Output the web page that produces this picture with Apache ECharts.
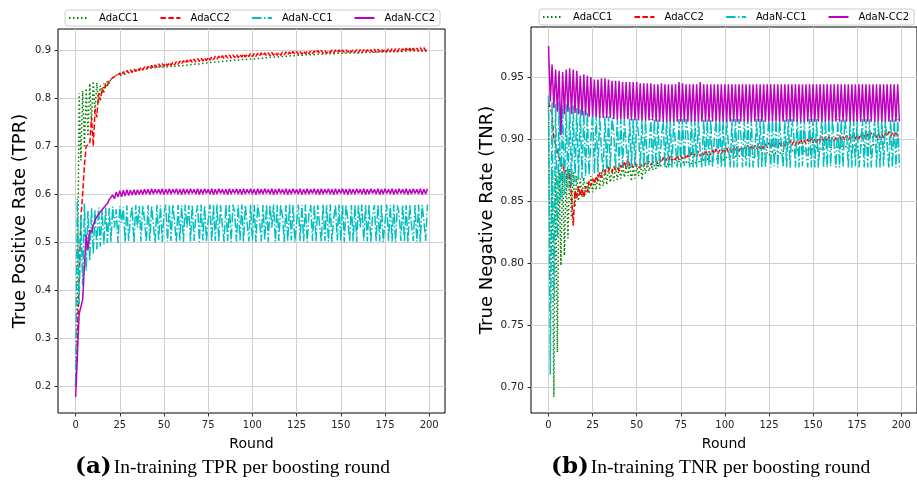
<!DOCTYPE html>
<html>
<head>
<meta charset="utf-8">
<script src="https://cdn.jsdelivr.net/npm/echarts@6/dist/echarts.min.js"></script>
<style>
html,body{margin:0;padding:0;background:#fff;}
#chart{width:917px;height:481px;}
</style>
</head>
<body>
<div id="chart"></div>
<script>
const seriesNames = ['AdaCC1', 'AdaCC2', 'AdaN-CC1', 'AdaN-CC2'];
const roundTicks = [0, 25, 50, 75, 100, 125, 150, 175, 200];
const tprTicks = [0.2, 0.3, 0.4, 0.5, 0.6, 0.7, 0.8, 0.9];
const tnrTicks = [0.70, 0.75, 0.80, 0.85, 0.90, 0.95];

const tprAdaCC1 = [
0.200,0.360,0.810,0.670,0.815,0.700,0.820,0.720,0.830,0.750,0.835,0.770,0.832,0.790,0.826,0.808,0.830,0.820,0.836,0.830,
0.840,0.837,0.845,0.842,0.850,0.847,0.853,0.850,0.855,0.852,0.856,0.853,0.857,0.855,0.858,0.856,0.860,0.857,0.861,0.858,
0.861,0.859,0.862,0.860,0.863,0.860,0.864,0.861,0.865,0.862,0.864,0.862,0.865,0.863,0.866,0.864,0.866,0.864,0.867,0.865,
0.867,0.865,0.868,0.866,0.869,0.867,0.870,0.868,0.871,0.869,0.871,0.870,0.872,0.870,0.873,0.871,0.874,0.872,0.875,0.873,
0.875,0.874,0.876,0.874,0.877,0.875,0.877,0.876,0.878,0.876,0.879,0.877,0.879,0.878,0.880,0.878,0.880,0.879,0.881,0.879,
0.881,0.880,0.882,0.880,0.883,0.881,0.883,0.882,0.884,0.882,0.885,0.883,0.885,0.884,0.886,0.884,0.886,0.885,0.887,0.885,
0.887,0.886,0.888,0.886,0.888,0.887,0.889,0.887,0.889,0.888,0.890,0.888,0.890,0.889,0.890,0.889,0.891,0.889,0.891,0.890,
0.891,0.890,0.892,0.890,0.892,0.891,0.892,0.891,0.893,0.891,0.893,0.892,0.893,0.892,0.894,0.892,0.894,0.893,0.894,0.893,
0.894,0.893,0.895,0.893,0.895,0.894,0.895,0.894,0.895,0.894,0.896,0.894,0.896,0.895,0.896,0.895,0.896,0.895,0.897,0.895,
0.897,0.895,0.897,0.896,0.897,0.896,0.897,0.896,0.898,0.896,0.898,0.896,0.898,0.897,0.898,0.897,0.898,0.897,0.898,0.897
];
const tprAdaCC2 = [
0.200,0.300,0.420,0.550,0.600,0.660,0.700,0.700,0.705,0.760,0.700,0.775,0.760,0.810,0.795,0.820,0.812,0.830,0.825,0.836,
0.832,0.842,0.838,0.847,0.843,0.851,0.846,0.854,0.849,0.857,0.852,0.859,0.853,0.861,0.855,0.862,0.857,0.864,0.858,0.865,
0.860,0.866,0.861,0.868,0.862,0.869,0.864,0.871,0.865,0.872,0.866,0.873,0.867,0.874,0.868,0.875,0.869,0.876,0.870,0.877,
0.871,0.878,0.872,0.879,0.873,0.880,0.874,0.881,0.875,0.882,0.876,0.883,0.877,0.884,0.878,0.885,0.879,0.886,0.880,0.887,
0.881,0.887,0.882,0.888,0.882,0.889,0.883,0.890,0.883,0.890,0.884,0.891,0.884,0.891,0.885,0.892,0.885,0.892,0.886,0.893,
0.886,0.893,0.887,0.893,0.887,0.894,0.888,0.894,0.888,0.894,0.888,0.895,0.889,0.895,0.889,0.895,0.889,0.896,0.890,0.896,
0.890,0.896,0.890,0.897,0.891,0.897,0.891,0.897,0.891,0.898,0.892,0.898,0.892,0.898,0.892,0.898,0.893,0.899,0.893,0.899,
0.893,0.899,0.893,0.899,0.894,0.900,0.894,0.900,0.894,0.900,0.894,0.900,0.895,0.901,0.895,0.901,0.895,0.901,0.895,0.901,
0.894,0.901,0.894,0.901,0.895,0.901,0.895,0.901,0.895,0.902,0.895,0.902,0.896,0.902,0.896,0.902,0.896,0.903,0.896,0.903,
0.896,0.903,0.896,0.903,0.897,0.903,0.897,0.904,0.897,0.904,0.897,0.904,0.898,0.904,0.898,0.905,0.898,0.905,0.898,0.904
];
const tprAdaNCC1 = [
0.200,0.590,0.370,0.555,0.410,0.580,0.440,0.565,0.460,0.570,0.475,0.568,0.485,0.572,0.490,0.566,0.495,0.572,0.498,0.570,
0.500,0.574,0.530,0.568,0.498,0.575,0.540,0.572,0.500,0.576,0.502,0.550,0.574,0.499,0.577,0.530,0.575,0.501,0.576,0.545,
0.500,0.577,0.502,0.575,0.535,0.499,0.577,0.503,0.576,0.500,0.560,0.578,0.501,0.576,0.502,0.578,0.540,0.500,0.577,0.503,
0.576,0.500,0.578,0.530,0.577,0.501,0.578,0.502,0.555,0.577,0.500,0.578,0.503,0.577,0.501,0.545,0.578,0.500,0.577,0.502,
0.578,0.501,0.577,0.535,0.500,0.578,0.502,0.577,0.500,0.578,0.560,0.501,0.577,0.503,0.578,0.500,0.577,0.540,0.501,0.578,
0.502,0.577,0.500,0.578,0.550,0.501,0.577,0.503,0.578,0.500,0.577,0.530,0.578,0.501,0.577,0.502,0.578,0.555,0.500,0.577,
0.501,0.578,0.503,0.577,0.500,0.540,0.578,0.502,0.577,0.501,0.578,0.500,0.560,0.577,0.502,0.578,0.501,0.577,0.535,0.500,
0.578,0.502,0.577,0.501,0.578,0.500,0.550,0.577,0.503,0.578,0.501,0.577,0.500,0.578,0.545,0.502,0.577,0.501,0.578,0.500,
0.577,0.530,0.578,0.502,0.577,0.501,0.578,0.500,0.555,0.577,0.502,0.578,0.501,0.577,0.500,0.540,0.578,0.502,0.577,0.501,
0.578,0.500,0.577,0.560,0.502,0.578,0.501,0.577,0.500,0.578,0.535,0.502,0.577,0.501,0.578,0.500,0.577,0.545,0.502,0.578
];
const tprAdaNCC2 = [
0.177,0.260,0.350,0.350,0.380,0.450,0.515,0.483,0.525,0.520,0.535,0.546,0.548,0.558,0.562,0.567,0.572,0.575,0.580,0.588,
0.585,0.598,0.590,0.604,0.594,0.607,0.594,0.608,0.596,0.609,0.597,0.608,0.598,0.609,0.598,0.609,0.599,0.609,0.599,0.610,
0.600,0.610,0.599,0.611,0.600,0.610,0.601,0.610,0.600,0.611,0.599,0.610,0.600,0.611,0.600,0.610,0.601,0.611,0.600,0.610,
0.599,0.611,0.600,0.610,0.600,0.611,0.601,0.610,0.600,0.611,0.599,0.610,0.600,0.611,0.601,0.610,0.600,0.611,0.599,0.610,
0.600,0.611,0.601,0.610,0.600,0.610,0.599,0.611,0.600,0.610,0.601,0.611,0.600,0.610,0.599,0.611,0.600,0.610,0.601,0.611,
0.600,0.610,0.599,0.611,0.600,0.610,0.600,0.611,0.601,0.610,0.600,0.611,0.599,0.610,0.600,0.611,0.601,0.610,0.600,0.611,
0.599,0.610,0.600,0.611,0.601,0.610,0.600,0.611,0.599,0.610,0.600,0.611,0.600,0.610,0.601,0.611,0.600,0.610,0.599,0.611,
0.600,0.610,0.601,0.611,0.600,0.610,0.599,0.611,0.600,0.610,0.601,0.611,0.600,0.610,0.599,0.611,0.600,0.610,0.600,0.611,
0.601,0.610,0.600,0.611,0.599,0.610,0.600,0.611,0.601,0.610,0.600,0.611,0.599,0.610,0.600,0.611,0.601,0.610,0.600,0.611,
0.599,0.610,0.600,0.611,0.601,0.610,0.600,0.611,0.599,0.610,0.600,0.611,0.601,0.610,0.600,0.611,0.599,0.610,0.600,0.611
];

const tnrAdaCC1 = [
0.930,0.760,0.870,0.692,0.872,0.728,0.875,0.798,0.874,0.806,0.872,0.820,0.876,0.835,0.873,0.845,0.870,0.850,0.868,0.853,
0.869,0.855,0.866,0.856,0.870,0.857,0.868,0.859,0.872,0.860,0.874,0.862,0.876,0.863,0.878,0.865,0.876,0.866,0.878,0.867,
0.877,0.868,0.879,0.869,0.878,0.870,0.880,0.866,0.879,0.868,0.880,0.870,0.881,0.867,0.880,0.872,0.881,0.874,0.880,0.875,
0.879,0.876,0.880,0.877,0.879,0.878,0.880,0.877,0.881,0.878,0.880,0.879,0.881,0.879,0.882,0.879,0.881,0.880,0.882,0.880,
0.882,0.880,0.883,0.881,0.882,0.881,0.883,0.881,0.883,0.882,0.884,0.882,0.883,0.882,0.884,0.883,0.884,0.883,0.885,0.883,
0.885,0.884,0.885,0.884,0.886,0.884,0.886,0.885,0.886,0.885,0.887,0.885,0.887,0.886,0.887,0.886,0.888,0.886,0.888,0.887,
0.888,0.887,0.889,0.887,0.889,0.887,0.889,0.888,0.890,0.888,0.890,0.888,0.890,0.889,0.890,0.889,0.891,0.889,0.891,0.889,
0.891,0.890,0.891,0.890,0.892,0.890,0.892,0.890,0.892,0.891,0.892,0.891,0.893,0.891,0.893,0.891,0.893,0.892,0.893,0.892,
0.893,0.892,0.894,0.892,0.894,0.892,0.894,0.893,0.894,0.893,0.894,0.893,0.895,0.893,0.895,0.893,0.895,0.894,0.895,0.894,
0.895,0.894,0.896,0.894,0.896,0.894,0.896,0.895,0.896,0.895,0.896,0.895,0.897,0.895,0.897,0.895,0.897,0.896,0.897,0.896
];
const tnrAdaCC2 = [
0.930,0.925,0.920,0.900,0.895,0.890,0.885,0.878,0.880,0.872,0.875,0.868,0.871,0.855,0.830,0.858,0.852,0.862,0.854,0.860,
0.853,0.862,0.857,0.866,0.862,0.868,0.864,0.870,0.866,0.873,0.869,0.876,0.872,0.879,0.874,0.877,0.873,0.878,0.875,0.877,
0.874,0.879,0.876,0.882,0.877,0.884,0.878,0.880,0.877,0.881,0.878,0.879,0.877,0.880,0.878,0.881,0.879,0.882,0.879,0.881,
0.880,0.883,0.880,0.884,0.881,0.885,0.881,0.884,0.882,0.886,0.882,0.885,0.883,0.887,0.883,0.886,0.884,0.888,0.884,0.887,
0.885,0.889,0.885,0.888,0.886,0.890,0.886,0.889,0.887,0.891,0.887,0.890,0.887,0.891,0.888,0.892,0.888,0.891,0.888,0.892,
0.889,0.893,0.889,0.892,0.889,0.893,0.890,0.894,0.890,0.893,0.890,0.894,0.891,0.895,0.891,0.894,0.891,0.895,0.892,0.896,
0.892,0.895,0.892,0.896,0.893,0.897,0.893,0.896,0.893,0.897,0.894,0.898,0.894,0.897,0.894,0.898,0.895,0.899,0.895,0.898,
0.895,0.899,0.896,0.900,0.896,0.899,0.896,0.900,0.897,0.901,0.897,0.900,0.897,0.901,0.898,0.902,0.898,0.901,0.898,0.902,
0.898,0.901,0.898,0.902,0.899,0.903,0.899,0.902,0.899,0.903,0.899,0.902,0.900,0.904,0.900,0.903,0.900,0.904,0.900,0.903,
0.900,0.904,0.901,0.905,0.901,0.904,0.901,0.905,0.901,0.904,0.901,0.905,0.902,0.906,0.902,0.905,0.902,0.906,0.902,0.905
];
const tnrAdaNCC1 = [
0.935,0.710,0.930,0.770,0.928,0.820,0.930,0.850,0.927,0.855,0.928,0.860,0.926,0.862,0.927,0.865,0.925,0.867,0.924,0.868,
0.923,0.870,0.922,0.871,0.900,0.921,0.872,0.920,0.873,0.919,0.890,0.874,0.918,0.875,0.918,0.876,0.917,0.905,0.876,0.917,
0.877,0.916,0.877,0.916,0.895,0.877,0.916,0.877,0.916,0.878,0.916,0.905,0.877,0.916,0.877,0.916,0.877,0.890,0.916,0.877,
0.916,0.877,0.916,0.878,0.900,0.916,0.877,0.916,0.877,0.916,0.877,0.916,0.895,0.877,0.916,0.877,0.916,0.878,0.916,0.905,
0.877,0.916,0.877,0.916,0.877,0.916,0.890,0.877,0.916,0.877,0.916,0.878,0.916,0.877,0.900,0.916,0.877,0.916,0.877,0.916,
0.877,0.916,0.895,0.877,0.916,0.877,0.916,0.877,0.916,0.905,0.877,0.916,0.878,0.916,0.877,0.916,0.877,0.890,0.916,0.877,
0.916,0.877,0.916,0.877,0.900,0.916,0.877,0.916,0.878,0.916,0.877,0.916,0.895,0.877,0.916,0.877,0.916,0.877,0.916,0.905,
0.877,0.916,0.877,0.916,0.878,0.916,0.890,0.877,0.916,0.877,0.916,0.877,0.916,0.877,0.900,0.916,0.877,0.916,0.877,0.916,
0.878,0.916,0.895,0.877,0.916,0.877,0.916,0.877,0.916,0.905,0.877,0.916,0.877,0.916,0.878,0.916,0.877,0.890,0.916,0.877,
0.916,0.877,0.916,0.877,0.900,0.916,0.877,0.916,0.877,0.916,0.878,0.916,0.895,0.877,0.916,0.877,0.916,0.877,0.916,0.877
];
const tnrAdaNCC2 = [
0.975,0.930,0.960,0.925,0.956,0.922,0.955,0.903,0.954,0.920,0.956,0.922,0.957,0.920,0.956,0.921,0.955,0.920,0.951,0.919,
0.952,0.919,0.951,0.918,0.950,0.918,0.948,0.918,0.948,0.917,0.949,0.917,0.949,0.917,0.948,0.917,0.947,0.916,0.947,0.916,
0.947,0.916,0.946,0.916,0.946,0.916,0.946,0.915,0.946,0.915,0.946,0.915,0.945,0.915,0.945,0.915,0.945,0.915,0.945,0.915,
0.944,0.914,0.944,0.914,0.945,0.914,0.944,0.914,0.944,0.914,0.944,0.914,0.944,0.914,0.946,0.914,0.945,0.914,0.944,0.914,
0.944,0.914,0.944,0.914,0.944,0.914,0.946,0.914,0.944,0.914,0.944,0.914,0.944,0.914,0.944,0.914,0.944,0.914,0.944,0.914,
0.944,0.914,0.944,0.914,0.944,0.914,0.944,0.914,0.944,0.914,0.944,0.914,0.944,0.914,0.944,0.914,0.944,0.914,0.944,0.914,
0.944,0.914,0.944,0.914,0.944,0.914,0.944,0.914,0.944,0.914,0.944,0.914,0.944,0.914,0.944,0.914,0.944,0.914,0.944,0.914,
0.944,0.914,0.944,0.914,0.944,0.914,0.944,0.914,0.944,0.914,0.944,0.914,0.944,0.914,0.944,0.914,0.944,0.914,0.944,0.914,
0.944,0.914,0.944,0.914,0.944,0.914,0.944,0.914,0.944,0.914,0.944,0.914,0.944,0.914,0.944,0.914,0.944,0.914,0.944,0.914,
0.944,0.914,0.944,0.914,0.944,0.914,0.944,0.914,0.944,0.914,0.944,0.914,0.944,0.914,0.944,0.914,0.944,0.914,0.944,0.914
];

const rounds = tprAdaCC1.map((_, i) => i);
const pairs = vals => vals.map((v, i) => [rounds[i], v]);

const styles = [
  { color: '#008000', type: [1.5, 2.5] },
  { color: '#ff0000', type: [5.5, 2.4] },
  { color: '#00bfbf', type: [9.6, 2.4, 1.5, 2.4] },
  { color: '#bf00bf', type: 'solid' }
];

const FONT = 'DejaVu Sans';

function mkX(idx) {
  return {
    gridIndex: idx, type: 'value', min: -9.95, max: 208.95,
    name: 'Round', nameLocation: 'middle', nameGap: 24,
    nameTextStyle: { fontFamily: FONT, fontSize: 14, color: '#000' },
    axisLine: { show: false, onZero: false },
    axisTick: { show: true, length: 3.5, lineStyle: { color: '#000', width: 0.8 }, customValues: roundTicks },
    axisLabel: { customValues: roundTicks, margin: 7, fontFamily: FONT, fontSize: 10, color: '#222' },
    splitLine: { show: true, lineStyle: { color: '#d0d0d0', width: 1 } }
  };
}
function mkY(idx, min, max, ticks, dec, name, gap, fs) {
  return {
    gridIndex: idx, type: 'value', min: min, max: max,
    name: name, nameLocation: 'middle', nameGap: gap,
    nameTextStyle: { fontFamily: FONT, fontSize: 18, color: '#000' },
    axisLine: { show: false, onZero: false },
    axisTick: { show: true, length: 3.5, lineStyle: { color: '#000', width: 0.8 }, customValues: ticks },
    axisLabel: { customValues: ticks, margin: 7, fontFamily: FONT, fontSize: fs, color: '#222',
      formatter: v => Number(v).toFixed(dec) },
    splitLine: { show: true, lineStyle: { color: '#d0d0d0', width: 1 } }
  };
}
function mkLegend(left, top) {
  return {
    left: left, top: top, orient: 'horizontal',
    data: seriesNames, itemWidth: 20, itemHeight: 12, itemGap: 21,
    padding: [3, 5, 3, 3], borderColor: '#cccccc', borderWidth: 1, borderRadius: 3,
    backgroundColor: '#fff', selectedMode: false,
    itemStyle: { opacity: 0 },
    textStyle: { fontFamily: FONT, fontSize: 10, color: '#000', padding: [0, 0, 0, 5] }
  };
}

const tprData = [tprAdaCC1, tprAdaCC2, tprAdaNCC1, tprAdaNCC2];
const tnrData = [tnrAdaCC1, tnrAdaCC2, tnrAdaNCC1, tnrAdaNCC2];
const series = [];
[tprData, tnrData].forEach((group, g) => {
  group.forEach((vals, k) => {
    series.push({
      name: seriesNames[k], type: 'line', xAxisIndex: g, yAxisIndex: g,
      data: pairs(vals), symbol: 'none', showSymbol: false, smooth: false,
      lineStyle: { color: styles[k].color, width: 1.5, type: styles[k].type },
      itemStyle: { color: styles[k].color },
      emphasis: { disabled: true }, animation: false, clip: true
    });
  });
});

const capRich = {
  b: { fontFamily: 'DejaVu Serif', fontWeight: 'bold', fontSize: 23, color: '#000' },
  n: { fontFamily: 'Liberation Serif', fontSize: 19.5, color: '#000', padding: [0, 0, 0, 2] }
};

const option = {
  backgroundColor: '#fff',
  animation: false,
  grid: [
    { left: 58, top: 29, width: 387, height: 384, show: true, borderColor: '#000', borderWidth: 1, backgroundColor: 'transparent' },
    { left: 531, top: 27, width: 389, height: 386, show: true, borderColor: '#000', borderWidth: 1, backgroundColor: 'transparent' }
  ],
  xAxis: [mkX(0), mkX(1)],
  yAxis: [
    mkY(0, 0.14375, 0.94375, tprTicks, 1, 'True Positive Rate (TPR)', 29, 10),
    mkY(1, 0.679, 0.9903, tnrTicks, 2, 'True Negative Rate (TNR)', 35, 10.5)
  ],
  legend: [mkLegend(65, 10), mkLegend(539, 9)],
  graphic: [
    { type: 'text', left: 75, top: 456, style: { text: '{b|(a)}{n|In-training TPR per boosting round}', rich: capRich } },
    { type: 'text', left: 551, top: 456, style: { text: '{b|(b)}{n|In-training TNR per boosting round}', rich: capRich } }
  ],
  series: series
};

const chart = echarts.init(document.getElementById('chart'), null, { renderer: 'canvas' });
chart.setOption(option);
</script>
</body>
</html>
